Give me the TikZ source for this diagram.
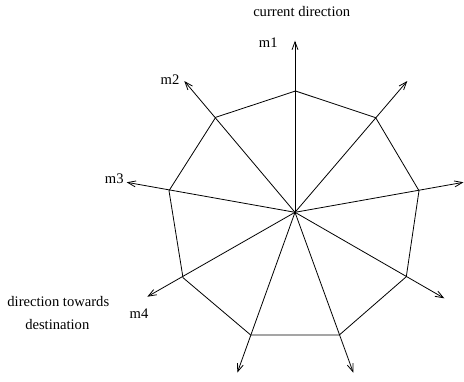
\documentclass[tikz,border=0pt]{standalone}
\usepackage{fontspec}
\setmainfont{Liberation Serif}
\usetikzlibrary{arrows.meta}
\begin{document}
\begin{tikzpicture}[x=1pt,y=-1pt,
  edge/.style={line width=0.8pt},
  ray/.style={line width=0.8pt,-{Straight Barb[length=8pt,width=6pt,line width=0.8pt]}},
  lbl/.style={inner sep=0pt,font=\fontsize{14.6}{17}\selectfont}]
\useasboundingbox (0,0) rectangle (464,381);
\coordinate (c) at (295,212.3);
\coordinate (p1) at (295.5,91);
\coordinate (p2) at (375.7,117.7);
\coordinate (p3) at (419,190.7);
\coordinate (p4) at (406.3,276.7);
\coordinate (p5) at (339.3,335);
\coordinate (p6) at (250.7,335);
\coordinate (p7) at (183,277.7);
\coordinate (p8) at (169,190.7);
\coordinate (p9) at (215.7,117.3);
\coordinate (e1) at (295,40.7);
\coordinate (e2) at (407.3,81);
\coordinate (e3) at (463.5,182.3);
\coordinate (e4) at (444.3,298.3);
\coordinate (e5) at (353.3,372.7);
\coordinate (e6) at (237.3,372.7);
\coordinate (e7) at (147.3,296.7);
\coordinate (e8) at (126.7,182.3);
\coordinate (e9) at (184.3,81);
\draw[edge,line join=miter] (p1)--(p2)--(p3)--(p4)--(p5)--(p6)--(p7)--(p8)--(p9)--cycle;
\foreach \i in {1,...,9} \draw[ray] (c) -- (e\i);
\node[lbl] (cur) at (301.7,11.7) {current direction};
\node[lbl] (m1) at (268.3,42.7) {m1};
\node[lbl] (m2) at (170,80) {m2};
\node[lbl] (m3) at (114.3,179) {m3};
\node[lbl] (m4) at (139,313.3) {m4};
\node[lbl] (dt) at (58.3,301.7) {direction towards};
\node[lbl] (dd) at (57.3,325) {destination};
\end{tikzpicture}
\end{document}
